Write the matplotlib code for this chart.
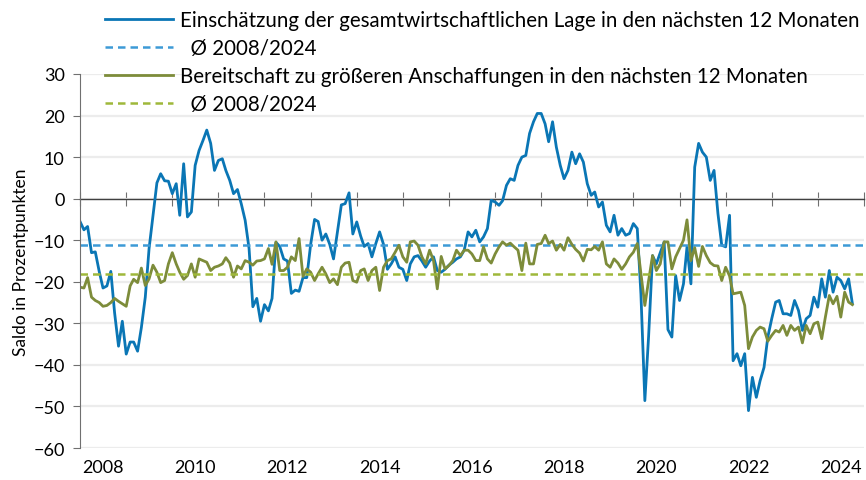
import numpy as np
import pandas as pd
import matplotlib
matplotlib.use("Agg")
import matplotlib.pyplot as plt
import matplotlib.dates as mdates

# monthly values, Jan 2008 onwards
lage = [
    -5.5, -7.5, -6.7, -13, -12.8, -17.5, -21.5, -21, -17.5, -27.5, -35.5, -29.5,
    -37.4, -34.5, -34.5, -36.7, -31, -23.7, -12, -4, 3.8, 6, 4.3, 4.2,
    1.2, 3.6, -4, 8.4, -4.4, -3.2, 8, 11.6, 14, 16.5, 13.3, 6.8,
    9.2, 9.6, 6.8, 4.4, 1.2, 2.2, -1.2, -5.2, -12, -26, -24, -29.5,
    -25.5, -27, -24, -10.5, -11.5, -14.5, -15, -22.8, -22, -22.3, -19, -19,
    -11, -5, -5.5, -10, -8.5, -11, -14.5, -8, -1.5, -1.2, 1.4, -8.5,
    -5.6, -9, -11.5, -10.8, -14, -10.8, -8, -11, -17, -15.7, -14, -16.5,
    -17, -19.7, -15.7, -14, -13.7, -15, -16.5, -15, -14, -17.3, -17.7, -17,
    -16, -15.3, -14.5, -14, -12.4, -8, -9.2, -7.6, -10.4, -9.2, -7.2, -0.4,
    -0.8, -1.6, -0.5, 3.2, 4.8, 4.4, 8, 10, 10.4, 15.7, 18.5, 20.5,
    20.5, 18, 13.7, 18.5, 12.4, 8, 4.8, 6.8, 11.2, 8.4, 10.8, 8.8,
    3.6, 0.8, 1.6, -2, -0.8, -6.4, -8, -4, -8.8, -7.2, -8.8, -8.4,
    -6, -7.2, -23, -48.6, -33, -13.7, -15.7, -13, -10.4, -31.5, -33.3, -18.5,
    -24.5, -20.5, -11.6, -20.5, 7.6, 13.3, 11.2, 10, 4.4, 6.8, -3.6, -11.2,
    -11.6, -4, -39, -37.3, -40.2, -37.3, -51, -43, -47.8, -43.8, -40.6, -33.3,
    -28.9, -24.9, -24.5, -27.7, -27.7, -28.1, -24.5, -26.9, -31.7, -28.9, -28.1, -23.7,
    -26.1, -19.3, -23.7, -17.3, -22.5, -18.9, -19.7, -21.7, -19.3, -25.3,
]
anschaffungen = [
    -21.3, -21.5, -19, -23.7, -24.5, -25, -25.9, -25.7, -25, -24, -24.7, -25.3,
    -25.9, -21, -19.4, -20.2, -16.7, -20.9, -19.3, -16, -17.7, -20.2, -19.7, -15.7,
    -13, -15.7, -17.7, -19.4, -18.5, -15.7, -18.9, -14.5, -14.9, -15.3, -17.3, -16.5,
    -16.2, -15.7, -14.2, -15.5, -18.9, -16.2, -16.9, -14.9, -15.3, -16, -15, -14.9,
    -14.5, -12, -15.8, -10.4, -17.3, -17.3, -16.5, -14, -14.9, -9.6, -18.7, -16.9,
    -17.7, -19.7, -18.1, -16.5, -18.1, -20.2, -19.3, -20.7, -16.5, -15.5, -15.3, -19.7,
    -20.1, -17.3, -16.9, -19.7, -17.3, -16.5, -22.1, -16.5, -14.9, -14.5, -12.9, -11.2,
    -14, -15.3, -10.4, -10.2, -11.2, -14, -15.7, -12.4, -14.9, -21.7, -13.9, -16.9,
    -16.1, -14.9, -12.4, -13.7, -12.4, -12.4, -13.3, -14.9, -14.9, -11.6, -14.5, -15.5,
    -13.3, -11.6, -10.4, -11.2, -10.7, -11.6, -12.4, -17.3, -10.7, -15.7, -15.7, -11,
    -10.8, -8.8, -10.8, -10.2, -12.4, -11, -12.4, -9.4, -11, -12.2, -13.1, -15,
    -12.2, -12.3, -11.5, -12.4, -10.4, -15.7, -16.5, -14.5, -15.5, -17, -15.7, -14,
    -12.9, -10.8, -18.1, -25.7, -19.7, -13.7, -17.3, -15.7, -10.4, -10.4, -16.9, -14,
    -12, -10, -5.1, -14.9, -11.8, -16.3, -11.5, -13.7, -15.4, -16.1, -16.2, -19.7,
    -16.5, -18.6, -22.9, -22.7, -22.5, -25.7, -36.1, -33.3, -31.7, -30.9, -31.3, -34.3,
    -32.9, -31.7, -32.1, -30.5, -32.9, -30.5, -31.7, -30.9, -34.7, -30.5, -32.5, -30.1,
    -29.7, -33.7, -28.5, -23.3, -25.3, -23.5, -28.5, -22.5, -24.9, -25.5,
]
avg_lage = -11.2
avg_anschaffungen = -18.1
label_years = [2008, 2010, 2012, 2014, 2016, 2018, 2020, 2022, 2024]

dates = pd.date_range("2008-01-01", periods=len(lage), freq="MS")

plt.rcParams['font.family'] = ['Lato', 'DejaVu Sans']
fig = plt.figure(figsize=(8.66, 4.81), dpi=100)
ax = fig.add_axes([0.0924, 0.0665, 0.9053, 0.7776])

ax.set_ylim(-60, 30)
ax.set_yticks(range(-60, 31, 10))
ax.grid(axis='y', color='#ececec', linewidth=1.6)
ax.set_axisbelow(True)

l1, = ax.plot(dates, lage, color='#0a76b5', linewidth=2.0,
              label='Einschätzung der gesamtwirtschaftlichen Lage in den nächsten 12 Monaten')
l2 = ax.axhline(avg_lage, color='#3d9ad6', linewidth=1.8, linestyle=(0, (3, 2)),
                label='  Ø 2008/2024')
l3, = ax.plot(dates, anschaffungen, color='#7d8c3a', linewidth=2.0,
              label='Bereitschaft zu größeren Anschaffungen in den nächsten 12 Monaten')
l4 = ax.axhline(avg_anschaffungen, color='#9fb83a', linewidth=1.8, linestyle=(0, (3, 2)),
                label='  Ø 2008/2024')

ax.set_xlim(pd.Timestamp('2008-01-01'), pd.Timestamp('2025-01-01'))
ax.spines['top'].set_visible(False)
ax.spines['right'].set_visible(False)
ax.spines['bottom'].set_position(('data', 0))
ax.spines['bottom'].set_color('#404040')
ax.spines['bottom'].set_linewidth(1.0)
ax.spines['bottom'].set_zorder(1)
ax.spines['left'].set_color('#707070')
ax.xaxis.set_major_locator(mdates.YearLocator())
ax.tick_params(axis='x', direction='inout', length=10, color='#707070',
               labelbottom=False)
ax.tick_params(axis='y', direction='out', length=5, color='#707070',
               labelsize=13, pad=6)

for y in label_years:
    ax.text(pd.Timestamp(f'{y}-07-01'), -0.052, str(y), transform=ax.get_xaxis_transform(),
            ha='center', va='center', fontsize=13)

ax.set_ylabel('Saldo in Prozentpunkten', fontsize=12.5, labelpad=3)

fig.legend(handles=[l1, l2, l3, l4], loc='upper left', bbox_to_anchor=(0.108, 1.0),
           frameon=False, fontsize=14.8, handlelength=3.3, handletextpad=0.36,
           labelspacing=0.38, borderaxespad=0.15)

fig.savefig('out.png', dpi=100)
